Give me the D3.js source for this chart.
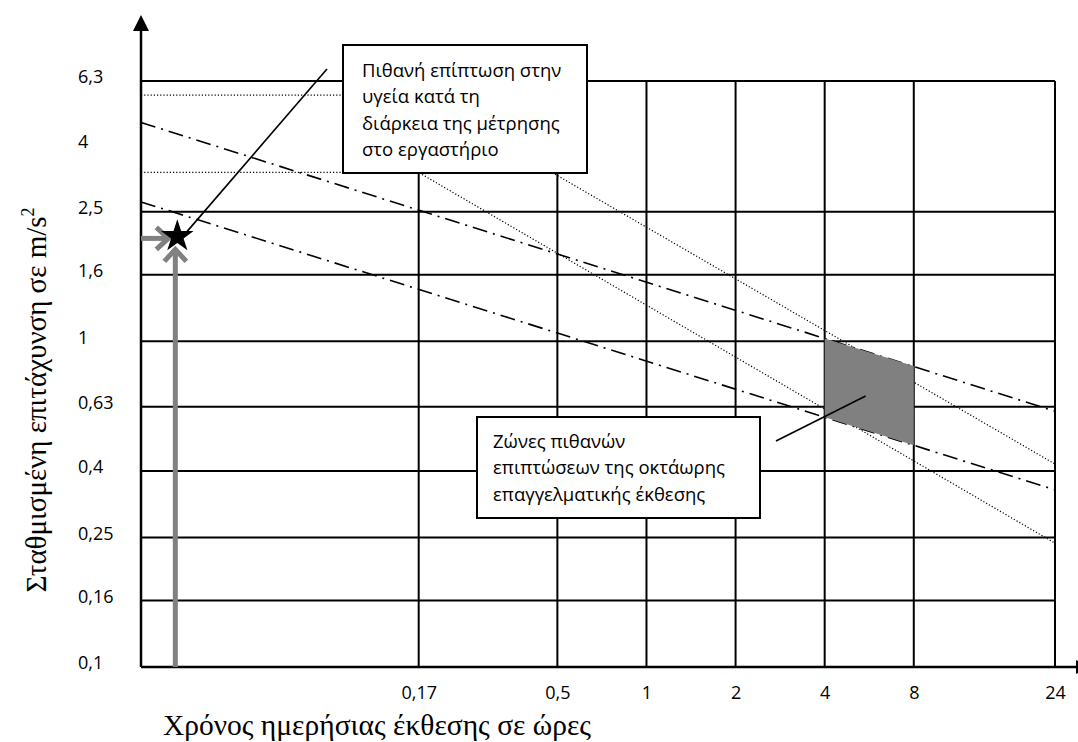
<!DOCTYPE html>
<html>
<head>
<meta charset="utf-8">
<script src="https://cdn.jsdelivr.net/npm/d3@7"></script>
<style>
  body { margin: 0; background: #fff; }
  svg { display: block; }
</style>
</head>
<body>
<svg id="chart" width="1078" height="742"></svg>
<script>
// Exposure time (hours) and frequency-weighted acceleration (m/s²), both logarithmic
const timeDomain = [0.0196, 24];
const accelDomain = [0.1, 6.3];

const xTicks = [0.17, 0.5, 1, 2, 4, 8, 24];
const xTickLabels = ["0,17", "0,5", "1", "2", "4", "8", "24"];
const yTicks = [0.1, 0.16, 0.25, 0.4, 0.63, 1, 1.6, 2.5, 4, 6.3];
const yTickLabels = ["0,1", "0,16", "0,25", "0,4", "0,63", "1", "1,6", "2,5", "4", "6,3"];
const yGridValues = [0.1, 0.16, 0.25, 0.4, 0.63, 1, 1.6, 2.5, 6.3];

// Health guidance caution zone boundaries, [hours, m/s²]
const upperDashDot = [[0.0196, 4.7], [24, 0.61]];
const lowerDashDot = [[0.0196, 2.68], [24, 0.35]];
const upperDotted = [[0.0196, 5.7], [0.17, 5.7], [24, 0.42]];
const lowerDotted = [[0.0196, 3.3], [0.17, 3.3], [24, 0.24]];

// Shaded zone for an eight-hour working day
const zoneTimes = [4, 8];
const zoneUpper = [1.02, 0.84];
const zoneLower = [0.585, 0.48];

// Laboratory measurement
const measurement = { t: 0.026, a: 2.1 };

const noteTop = ["Πιθανή επίπτωση στην", "υγεία κατά τη", "διάρκεια της μέτρησης", "στο εργαστήριο"];
const noteZone = ["Ζώνες πιθανών", "επιπτώσεων της οκτάωρης", "επαγγελματικής έκθεσης"];

const xTitle = "Χρόνος ημερήσιας έκθεσης σε ώρες";
const yTitle = "Σταθμισμένη επιτάχυνση σε m/s";

// ---------- layout ----------
const plot = { left: 141, right: 1055, top: 81, bottom: 667 };
const sans = "'Open Sans', 'Noto Sans', sans-serif";
const serif = "'Liberation Serif', 'DejaVu Serif', serif";
const grey = "#808080";

const svg = d3.select("#chart");
const x = d3.scaleLog().domain(timeDomain).range([plot.left, plot.right]);
const y = d3.scaleLog().domain(accelDomain).range([plot.bottom, plot.top]);
const line = d3.line().x(d => x(d[0])).y(d => y(d[1]));

// ---------- grid ----------
const grid = svg.append("g").attr("stroke", "#000").attr("stroke-width", 2);
grid.selectAll("line.h").data(yGridValues).join("line")
  .attr("class", "h")
  .attr("x1", plot.left).attr("x2", plot.right)
  .attr("y1", d => y(d)).attr("y2", d => y(d));
grid.selectAll("line.v").data(xTicks).join("line")
  .attr("class", "v")
  .attr("x1", d => x(d)).attr("x2", d => x(d))
  .attr("y1", plot.top).attr("y2", plot.bottom);

// ---------- boundary lines ----------
svg.selectAll("path.dashdot").data([upperDashDot, lowerDashDot]).join("path")
  .attr("class", "dashdot")
  .attr("d", line)
  .attr("fill", "none").attr("stroke", "#000").attr("stroke-width", 1.6)
  .attr("stroke-dasharray", "15,6,2,6");

svg.selectAll("path.dotted").data([upperDotted, lowerDotted]).join("path")
  .attr("class", "dotted")
  .attr("d", line)
  .attr("fill", "none").attr("stroke", "#000").attr("stroke-width", 1.2)
  .attr("stroke-dasharray", "1.2,2");

// ---------- shaded zone ----------
const zonePoly = zoneTimes.map((t, i) => [x(t), y(zoneUpper[i])])
  .concat(zoneTimes.map((t, i) => [x(t), y(zoneLower[i])]).reverse());
svg.append("path")
  .attr("d", d3.line()(zonePoly) + "Z")
  .attr("fill", grey);

// ---------- axes ----------
const axes = svg.append("g").attr("fill", "#000").attr("stroke", "#000");
axes.append("line")
  .attr("x1", plot.left).attr("x2", plot.left)
  .attr("y1", plot.bottom).attr("y2", plot.top - 52)
  .attr("stroke-width", 2.5);
axes.append("path")
  .attr("d", `M${plot.left},${plot.top - 66} L${plot.left - 8},${plot.top - 50} L${plot.left + 8},${plot.top - 50} Z`)
  .attr("stroke", "none");
axes.append("line")
  .attr("x1", plot.left).attr("x2", 1078)
  .attr("y1", plot.bottom).attr("y2", plot.bottom)
  .attr("stroke-width", 2.5);
axes.append("path")
  .attr("d", `M${plot.right + 36},${plot.bottom} L${plot.right + 21},${plot.bottom - 7} L${plot.right + 21},${plot.bottom + 7} Z`)
  .attr("stroke", "none");

const xAxis = svg.append("g")
  .attr("transform", `translate(0,${plot.bottom})`)
  .call(d3.axisBottom(x).tickValues(xTicks).tickFormat((d, i) => xTickLabels[i]).tickSize(0).tickPadding(19));
xAxis.select(".domain").remove();
xAxis.selectAll("text").attr("font-family", sans).attr("font-size", 18).attr("fill", "#000");

const yAxis = svg.append("g")
  .attr("transform", `translate(78,-4)`)
  .call(d3.axisLeft(y).tickValues(yTicks).tickFormat((d, i) => yTickLabels[i]).tickSize(0));
yAxis.select(".domain").remove();
yAxis.selectAll("text")
  .attr("x", 0).attr("text-anchor", "start")
  .attr("font-family", sans).attr("font-size", 18).attr("fill", "#000");

// ---------- axis titles ----------
svg.append("text")
  .attr("x", 377).attr("y", 735)
  .attr("text-anchor", "middle")
  .attr("font-family", serif).attr("font-size", 29.5)
  .text(xTitle);

const yt = svg.append("text")
  .attr("transform", "translate(46,400) rotate(-90)")
  .attr("text-anchor", "middle")
  .attr("font-family", serif).attr("font-size", 29);
yt.append("tspan").text(yTitle);
yt.append("tspan").attr("font-size", 18).attr("dy", -12).text("2");

// ---------- annotation boxes ----------
function noteBox(box, lines) {
  const g = svg.append("g");
  g.append("rect")
    .attr("x", box.x).attr("y", box.y).attr("width", box.w).attr("height", box.h)
    .attr("fill", "#fff").attr("stroke", "#000").attr("stroke-width", 2);
  g.selectAll("text").data(lines).join("text")
    .attr("x", box.x + box.pad)
    .attr("y", (d, i) => box.y + box.first + i * 26.3)
    .attr("font-family", sans).attr("font-size", 18.5).attr("fill", "#000")
    .text(d => d);
  return g;
}
const box1 = { x: 343, y: 45, w: 244, h: 128, pad: 19, first: 32 };
const box2 = { x: 477, y: 417, w: 283, h: 101, pad: 16, first: 31 };
noteBox(box1, noteTop);
noteBox(box2, noteZone);

// ---------- leader lines ----------
const mx = x(measurement.t), my = y(measurement.a);
svg.append("line")
  .attr("x1", mx + 9).attr("y1", my - 4)
  .attr("x2", box1.x - 16).attr("y2", box1.y + 24)
  .attr("stroke", "#000").attr("stroke-width", 1.6);

const z4 = x(zoneTimes[0]), z8 = x(zoneTimes[1]);
const zTop = y(zoneUpper[0]), zBot = y(zoneLower[0]);
svg.append("line")
  .attr("x1", box2.x + box2.w + 16).attr("y1", box2.y + 24)
  .attr("x2", z4 + 0.46 * (z8 - z4)).attr("y2", zTop + 0.73 * (zBot - zTop))
  .attr("stroke", "#000").attr("stroke-width", 1.6);

// ---------- reading arrows to the measurement ----------
const arrows = svg.append("g")
  .attr("fill", "none").attr("stroke", grey).attr("stroke-width", 5)
  .attr("stroke-linejoin", "miter");
const vx = mx - 2, vTip = my + 13;
arrows.append("path").attr("d", `M${vx},${plot.bottom} L${vx},${vTip + 2}`);
arrows.append("path").attr("d", `M${vx - 11},${vTip + 12} L${vx},${vTip} L${vx + 11},${vTip + 12}`);
const hy = my + 2, hTip = mx - 9;
arrows.append("path").attr("d", `M${plot.left},${hy} L${hTip - 2},${hy}`);
arrows.append("path").attr("d", `M${hTip - 12},${hy - 11} L${hTip},${hy} L${hTip - 12},${hy + 11}`);

// ---------- measurement star ----------
svg.append("path")
  .attr("transform", `translate(${mx},${my})`)
  .attr("d", d3.symbol(d3.symbolStar).size(330)())
  .attr("fill", "#000");
</script>
</body>
</html>
